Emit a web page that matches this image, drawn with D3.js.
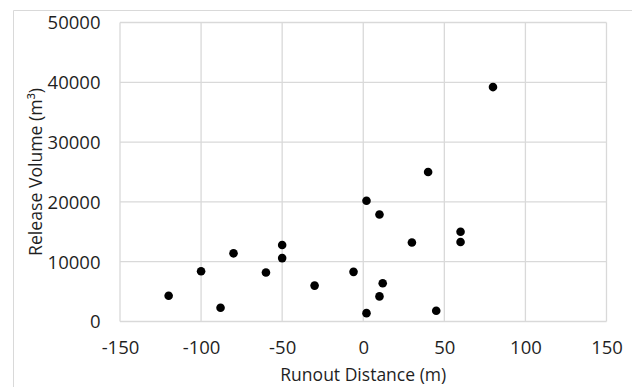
<!DOCTYPE html>
<html>
<head>
<meta charset="utf-8">
<script src="https://cdn.jsdelivr.net/npm/d3@7"></script>
<style>
  html, body { margin: 0; padding: 0; background: #fff; }
  svg { display: block; }
  text { font-family: "Open Sans", sans-serif; fill: #1f1f1f; }
</style>
</head>
<body>
<script>
// Data
const runoutDistance = [-120, -100, -88, -80, -60, -50, -50, -30, -6, 2, 2, 10, 10, 12, 30, 40, 45, 60, 60, 80];
const releaseVolume  = [4300, 8400, 2300, 11400, 8200, 12800, 10600, 6000, 8300, 20200, 1400, 17900, 4200, 6400, 13200, 25000, 1800, 15000, 13300, 39200];
const xTicks = [-150, -100, -50, 0, 50, 100, 150];
const yTicks = [0, 10000, 20000, 30000, 40000, 50000];
const xTitle = "Runout Distance (m)";
const yTitle = "Release Volume (m\u00B3)";

const W = 632, H = 387;
const plot = { left: 120, right: 606.5, top: 22.5, bottom: 321.5 };

const svg = d3.select("body").append("svg").attr("width", W).attr("height", H);

// outer chart border (top and left visible)
svg.append("line").attr("x1", 13.5).attr("x2", W).attr("y1", 10.5).attr("y2", 10.5)
  .attr("stroke", "#d9d9d9").attr("stroke-width", 1);
svg.append("line").attr("x1", 13.5).attr("x2", 13.5).attr("y1", 10.5).attr("y2", H)
  .attr("stroke", "#d9d9d9").attr("stroke-width", 1);

const x = d3.scaleLinear().domain([-150, 150]).range([plot.left, plot.right]);
const y = d3.scaleLinear().domain([0, 50000]).range([plot.bottom, plot.top]);

// gridlines
const grid = svg.append("g");
grid.selectAll("line.vx").data(xTicks).join("line")
  .attr("x1", d => x(d)).attr("x2", d => x(d))
  .attr("y1", plot.top).attr("y2", plot.bottom)
  .attr("stroke", "#d9d9d9").attr("stroke-width", 1.3);
grid.selectAll("line.hy").data(yTicks).join("line")
  .attr("x1", plot.left).attr("x2", plot.right)
  .attr("y1", d => y(d)).attr("y2", d => y(d))
  .attr("stroke", "#d9d9d9").attr("stroke-width", 1.3);

const fmt = d => String(d);

// axes (labels only)
const xAxis = d3.axisBottom(x).tickValues(xTicks).tickSize(0).tickPadding(0).tickFormat(fmt);
const gx = svg.append("g").attr("transform", `translate(0,${plot.bottom})`).call(xAxis);
gx.select(".domain").remove();
gx.selectAll("text").attr("y", 32.5).attr("dy", null)
  .style("font-family", '"Open Sans", sans-serif').style("font-size", "18.5px").attr("fill", "#1f1f1f");

const yAxis = d3.axisLeft(y).tickValues(yTicks).tickSize(0).tickPadding(0).tickFormat(fmt);
const gy = svg.append("g").attr("transform", `translate(${plot.left},0)`).call(yAxis);
gy.select(".domain").remove();
gy.selectAll("text").attr("x", -19.5).attr("dy", "0.35em")
  .style("font-family", '"Open Sans", sans-serif').style("font-size", "18.5px").attr("fill", "#1f1f1f");

// points
svg.append("g").selectAll("circle").data(runoutDistance.map((d, i) => [d, releaseVolume[i]])).join("circle")
  .attr("cx", d => x(d[0])).attr("cy", d => y(d[1])).attr("r", 4.3).attr("fill", "#000");

// axis titles, sized to the reference's text lengths
function fit(sel, target) {
  const len = sel.node().getComputedTextLength();
  const fs = parseFloat(sel.style("font-size"));
  if (len > 0) sel.style("font-size", (fs * target / len).toFixed(2) + "px");
}
const xt = svg.append("text").attr("x", (plot.left + plot.right) / 2).attr("y", 381)
  .attr("text-anchor", "middle").style("font-size", "17px").text(xTitle);
fit(xt, 166);
const yt = svg.append("text")
  .attr("transform", `translate(41.5,${(plot.top + plot.bottom) / 2}) rotate(-90)`)
  .attr("text-anchor", "middle").style("font-size", "17px").text(yTitle);
fit(yt, 168);
</script>
</body>
</html>
